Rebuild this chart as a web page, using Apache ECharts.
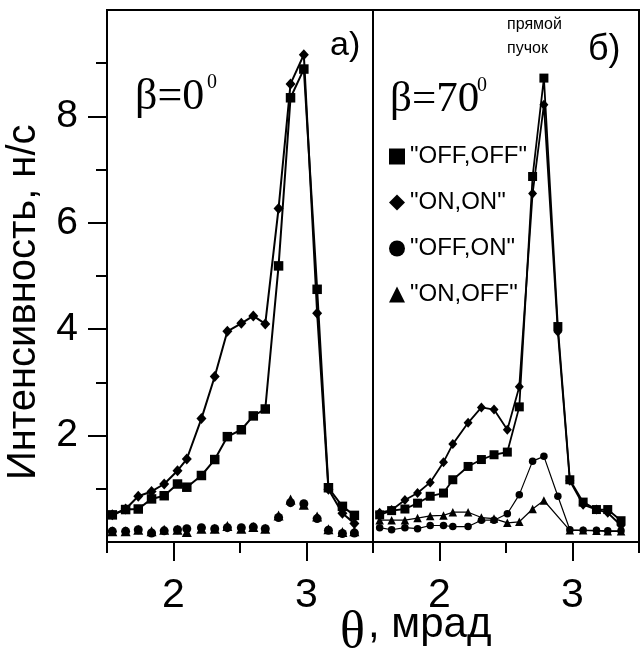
<!DOCTYPE html>
<html><head><meta charset="utf-8">
<script src="https://cdn.jsdelivr.net/npm/echarts@6/dist/echarts.min.js"></script>
<style>html,body{margin:0;padding:0;background:#fff}#c{width:640px;height:655px}</style>
</head><body><div id="c"></div>
<script>
// ---- data ----
const names = ['"OFF,OFF"', '"ON,ON"', '"OFF,ON"', '"ON,OFF"'];
const xRange = [1.5, 3.5];
const xLabelRange = [2, 3];      // labelled x ticks 2, 3
const yRange = [0, 10];
const yLabelRange = [2, 8];      // labelled y ticks 2, 4, 6, 8
const yMinorRange = [1, 9];      // minor y ticks 1 ... 9

// panel a) beta = 0
const leftX = [1.54, 1.64, 1.735, 1.835, 1.93, 2.03, 2.10, 2.21, 2.31, 2.405, 2.51, 2.60, 2.69, 2.79, 2.88, 2.98, 3.08, 3.165, 3.27, 3.36];
const leftOffOff = [0.51, 0.61, 0.62, 0.81, 0.87, 1.09, 1.03, 1.25, 1.55, 1.98, 2.11, 2.37, 2.50, 5.19, 8.35, 8.89, 4.75, 1.02, 0.67, 0.50];
const leftOnOn   = [0.51, 0.62, 0.86, 0.95, 1.09, 1.34, 1.56, 2.32, 3.11, 3.96, 4.11, 4.25, 4.10, 6.27, 8.61, 9.16, 4.30, 0.99, 0.54, 0.35];
const leftOffOn  = [0.20, 0.20, 0.23, 0.17, 0.21, 0.23, 0.25, 0.27, 0.25, 0.27, 0.27, 0.28, 0.25, 0.46, 0.74, 0.72, 0.44, 0.22, 0.16, 0.17];
const leftOnOff  = [0.20, 0.20, 0.23, 0.20, 0.23, 0.23, 0.19, 0.25, 0.25, 0.30, 0.25, 0.28, 0.25, 0.50, 0.80, 0.70, 0.48, 0.24, 0.19, 0.20];

// panel б) beta = 70
const rightX = [1.55, 1.64, 1.74, 1.835, 1.93, 2.03, 2.10, 2.215, 2.315, 2.41, 2.51, 2.60, 2.70, 2.785, 2.89, 2.98, 3.08, 3.18, 3.265, 3.365];
const rightOffOff = [0.51, 0.59, 0.62, 0.73, 0.86, 0.92, 1.17, 1.42, 1.55, 1.64, 1.69, 2.54, 6.87, 8.72, 4.05, 1.17, 0.75, 0.61, 0.61, 0.40];
const rightOnOn   = [0.55, 0.60, 0.79, 0.92, 1.12, 1.50, 1.84, 2.24, 2.53, 2.49, 2.11, 2.92, 6.55, 8.22, 3.95, 1.15, 0.70, 0.61, 0.55, 0.31];
const rightOffOn  = [0.27, 0.23, 0.27, 0.25, 0.31, 0.31, 0.29, 0.29, 0.41, 0.41, 0.53, 0.89, 1.52, 1.61, 0.86, 0.23, 0.22, 0.22, 0.21, 0.21];
const rightOnOff  = [0.41, 0.41, 0.41, 0.45, 0.49, 0.50, 0.56, 0.56, 0.46, 0.44, 0.36, 0.38, 0.62, 0.78, null, 0.22, 0.22, 0.21, 0.20, 0.20];

// ---- layout ----
const zip = (xs, ys) => xs.map((x, i) => [x, ys[i]]);
const SANS = 'Liberation Sans';
const SERIF = 'Liberation Serif';
const black = '#000';

const PLOT_TOP = 10, PLOT_H = 532, PANEL_W = 266;
const PANEL_LEFT = [107, 373];
const pxPerX = PANEL_W / (xRange[1] - xRange[0]);
const pxPerY = PLOT_H / (yRange[1] - yRange[0]);
const yPix = v => PLOT_TOP + (yRange[1] - v) * pxPerY;

const grids = [
  { left: PANEL_LEFT[0], top: PLOT_TOP, width: PANEL_W, height: PLOT_H, show: true, borderColor: black, borderWidth: 2 },
  { left: PANEL_LEFT[1], top: PLOT_TOP, width: PANEL_W, height: PLOT_H, show: true, borderColor: black, borderWidth: 2 },
  // helper grids for the long (labelled) x ticks
  { left: PANEL_LEFT[0] + (xLabelRange[0] - xRange[0]) * pxPerX, top: PLOT_TOP, width: (xLabelRange[1] - xLabelRange[0]) * pxPerX, height: PLOT_H },
  { left: PANEL_LEFT[1] + (xLabelRange[0] - xRange[0]) * pxPerX, top: PLOT_TOP, width: (xLabelRange[1] - xLabelRange[0]) * pxPerX, height: PLOT_H },
  // helper grid for long (labelled) y ticks
  { left: PANEL_LEFT[0], width: PANEL_W, top: yPix(yLabelRange[1]), height: (yLabelRange[1] - yLabelRange[0]) * pxPerY },
  // helper grid for short y ticks
  { left: PANEL_LEFT[0], width: PANEL_W, top: yPix(yMinorRange[1]), height: (yMinorRange[1] - yMinorRange[0]) * pxPerY }
];

const hidden = g => ({ gridIndex: g, type: 'value', show: false, min: 0, max: 1 });
const tickStyle = { color: black, width: 2 };

const xAxes = [
  { gridIndex: 0, type: 'value', min: xRange[0], max: xRange[1], interval: 0.5,
    axisLine: { lineStyle: tickStyle }, axisTick: { length: 11, lineStyle: tickStyle },
    axisLabel: { show: false }, splitLine: { show: false } },
  { gridIndex: 1, type: 'value', min: xRange[0], max: xRange[1], interval: 0.5,
    axisLine: { lineStyle: tickStyle }, axisTick: { length: 11, lineStyle: tickStyle },
    axisLabel: { show: false }, splitLine: { show: false } },
  { gridIndex: 2, type: 'value', min: xLabelRange[0], max: xLabelRange[1], interval: 1,
    axisLine: { show: false }, axisTick: { length: 19, lineStyle: tickStyle },
    axisLabel: { margin: 33, color: black, fontFamily: SANS, fontSize: 41, lineHeight: 41 }, splitLine: { show: false } },
  { gridIndex: 3, type: 'value', min: xLabelRange[0], max: xLabelRange[1], interval: 1,
    axisLine: { show: false }, axisTick: { length: 19, lineStyle: tickStyle },
    axisLabel: { margin: 33, color: black, fontFamily: SANS, fontSize: 41, lineHeight: 41 }, splitLine: { show: false } },
  hidden(4), hidden(5)
];
const yAxes = [
  { gridIndex: 0, type: 'value', min: yRange[0], max: yRange[1],
    axisLine: { show: true, lineStyle: tickStyle }, axisTick: { show: false }, axisLabel: { show: false }, splitLine: { show: false } },
  { gridIndex: 1, type: 'value', min: yRange[0], max: yRange[1],
    axisLine: { show: true, lineStyle: tickStyle }, axisTick: { show: false }, axisLabel: { show: false }, splitLine: { show: false } },
  hidden(2), hidden(3),
  { gridIndex: 4, type: 'value', min: yLabelRange[0], max: yLabelRange[1], interval: 2,
    axisLine: { show: false }, axisTick: { length: 19, lineStyle: tickStyle },
    axisLabel: { margin: 29, color: black, fontFamily: SANS, fontSize: 39 }, splitLine: { show: false } },
  { gridIndex: 5, type: 'value', min: yMinorRange[0], max: yMinorRange[1], interval: 1,
    axisLine: { show: false }, axisTick: { length: 11, lineStyle: tickStyle },
    axisLabel: { show: false }, splitLine: { show: false } }
];

const solid = { color: black, opacity: 1 };

const option = {
  animation: false,
  backgroundColor: '#fff',
  grid: grids,
  xAxis: xAxes,
  yAxis: yAxes,
  legend: {
    orient: 'vertical', left: 384, top: 139, itemWidth: 16, itemHeight: 16, itemGap: 21,
    selectedMode: false,
    textStyle: { color: black, fontFamily: SANS, fontSize: 24, lineHeight: 25 },
    data: [
      { name: names[0], icon: 'rect', itemStyle: solid },
      { name: names[1], icon: 'diamond', itemStyle: solid },
      { name: names[2], icon: 'circle', itemStyle: solid },
      { name: names[3], icon: 'triangle', itemStyle: solid }
    ]
  },
  series: [
    { name: names[2], type: 'scatter', xAxisIndex: 0, yAxisIndex: 0, data: zip(leftX, leftOffOn),
      symbol: 'circle', symbolSize: 9, itemStyle: solid },
    { name: names[3], type: 'scatter', xAxisIndex: 0, yAxisIndex: 0, data: zip(leftX, leftOnOff),
      symbol: 'triangle', symbolSize: 10, itemStyle: solid },
    { name: names[1], type: 'line', xAxisIndex: 0, yAxisIndex: 0, data: zip(leftX, leftOnOn),
      symbol: 'diamond', symbolSize: [10, 11], showAllSymbol: true,
      lineStyle: { color: black, width: 2 }, itemStyle: solid },
    { name: names[0], type: 'line', xAxisIndex: 0, yAxisIndex: 0, data: zip(leftX, leftOffOff),
      symbol: 'rect', symbolSize: 9.5, showAllSymbol: true,
      lineStyle: { color: black, width: 2 }, itemStyle: solid },

    { name: names[2], type: 'line', xAxisIndex: 1, yAxisIndex: 1, data: zip(rightX, rightOffOn),
      symbol: 'circle', symbolSize: 7.5, showAllSymbol: true,
      lineStyle: { color: black, width: 1.2 }, itemStyle: solid },
    { name: names[3], type: 'line', xAxisIndex: 1, yAxisIndex: 1, data: zip(rightX, rightOnOff),
      symbol: 'triangle', symbolSize: 8.5, showAllSymbol: true, connectNulls: true,
      lineStyle: { color: black, width: 1.2 }, itemStyle: solid },
    { name: names[1], type: 'line', xAxisIndex: 1, yAxisIndex: 1, data: zip(rightX, rightOnOn),
      symbol: 'diamond', symbolSize: [9, 10], showAllSymbol: true,
      lineStyle: { color: black, width: 1.8 }, itemStyle: solid },
    { name: names[0], type: 'line', xAxisIndex: 1, yAxisIndex: 1, data: zip(rightX, rightOffOff),
      symbol: 'rect', symbolSize: 9, showAllSymbol: true,
      lineStyle: { color: black, width: 1.8 }, itemStyle: solid }
  ],
  graphic: [
    { type: 'text', x: 24, y: 480, rotation: Math.PI / 2, silent: true,
      style: { text: 'Интенсивность, н/с', fontFamily: SANS, fontSize: 40, fill: black, align: 'left', verticalAlign: 'middle' } },
    { type: 'text', x: 340, y: 633, silent: true,
      style: { text: 'θ', fontFamily: SERIF, fontSize: 52, fill: black, align: 'left', verticalAlign: 'middle' } },
    { type: 'text', x: 368, y: 625, silent: true,
      style: { text: ', мрад', fontFamily: SANS, fontSize: 42, fill: black, align: 'left', verticalAlign: 'middle' } },
    { type: 'text', x: 135, y: 97, silent: true,
      style: { text: 'β=0', fontFamily: SERIF, fontSize: 44, fill: black, align: 'left', verticalAlign: 'middle' } },
    { type: 'text', x: 207, y: 83, silent: true,
      style: { text: '0', fontFamily: SERIF, fontSize: 20, fill: black, align: 'left', verticalAlign: 'middle' } },
    { type: 'text', x: 390, y: 100, silent: true,
      style: { text: 'β=70', fontFamily: SERIF, fontSize: 43, fill: black, align: 'left', verticalAlign: 'middle' } },
    { type: 'text', x: 477, y: 86, silent: true,
      style: { text: '0', fontFamily: SERIF, fontSize: 20, fill: black, align: 'left', verticalAlign: 'middle' } },
    { type: 'text', x: 330, y: 46, silent: true,
      style: { text: 'a)', fontFamily: SANS, fontSize: 34, fill: black, align: 'left', verticalAlign: 'middle' } },
    { type: 'text', x: 588, y: 50, silent: true,
      style: { text: 'б)', fontFamily: SANS, fontSize: 36, fill: black, align: 'left', verticalAlign: 'middle' } },
    { type: 'text', x: 507, y: 25, silent: true,
      style: { text: 'прямой', fontFamily: SANS, fontSize: 16, fill: black, align: 'left', verticalAlign: 'middle' } },
    { type: 'text', x: 507, y: 49, silent: true,
      style: { text: 'пучок', fontFamily: SANS, fontSize: 16, fill: black, align: 'left', verticalAlign: 'middle' } }
  ]
};
const chart = echarts.init(document.getElementById('c'));
chart.setOption(option);
</script></body></html>
